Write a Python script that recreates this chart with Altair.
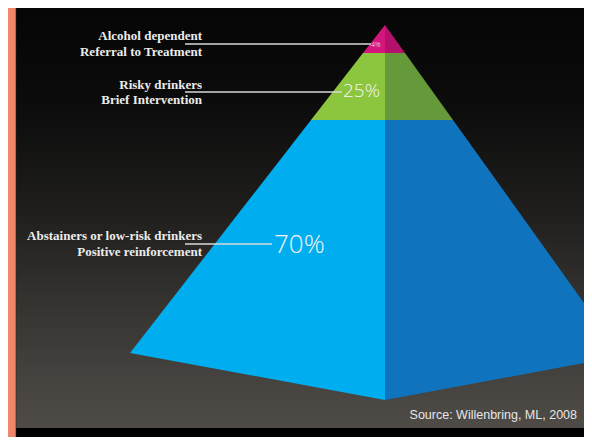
import altair as alt
import pandas as pd

# ---- pyramid geometry (reference pixel coordinates) ----
face_names = ["pink_l", "pink_r", "green_l", "green_r", "blue_l", "blue_r"]
face_colors = ["#d5157e", "#b5106b", "#8cc63f", "#66993a", "#00adee", "#0f74bd"]
face_y = [
    [25, 53], [25, 53],
    [53, 120], [53, 120],
    [120, 353, 400], [120, 356, 400],
]
face_x = [
    [385, 363], [385, 385],
    [363, 311], [385, 385],
    [311, 130, 385], [385, 385, 385],
]
face_x2 = [
    [385, 385], [385, 405],
    [385, 385], [405, 453],
    [385, 385, 385], [453, 622, 385],
]

labels_top = ["Alcohol dependent", "Risky drinkers", "Abstainers or low-risk drinkers"]
labels_bottom = ["Referral to Treatment", "Brief Intervention", "Positive reinforcement"]
label_y_top = [36, 85, 236]
label_y_bottom = [52, 100, 252]
leader_y = [44, 92, 244]
leader_x_end = [371, 342, 272]
pct_text = ["4%", "25%", "70%"]
pct_x = [371, 343, 274]
pct_y = [45, 91, 245]
pct_size = [7, 19, 26]
source_text = "Source: Willenbring, ML, 2008"

rows = []
for n, ys_, xs_, x2s in zip(face_names, face_y, face_x, face_x2):
    for yy, xx, xx2 in zip(ys_, xs_, x2s):
        rows.append({"face": n, "y": yy, "x": xx, "x2": xx2})
faces = pd.DataFrame(rows)

W, H = 576, 429
xs = alt.Scale(domain=[8, 8 + W], nice=False, zero=False)
ys = alt.Scale(domain=[8, 8 + H], reverse=True, nice=False, zero=False)

def X(f):
    return alt.X(f, type="quantitative", scale=xs, axis=None)

def Y(f):
    return alt.Y(f, type="quantitative", scale=ys, axis=None)

# background gradient
bg = alt.Chart(pd.DataFrame({"x": [0], "x2": [592], "y": [0], "y2": [428]})).mark_rect(
    clip=True,
    color=alt.Gradient(
        gradient="linear",
        stops=[
            alt.GradientStop(color="#050505", offset=0),
            alt.GradientStop(color="#0c0c0c", offset=0.25),
            alt.GradientStop(color="#201f1d", offset=0.5),
            alt.GradientStop(color="#393734", offset=0.75),
            alt.GradientStop(color="#4f4c48", offset=1),
        ],
        x1=0, x2=0, y1=0, y2=1,
    ),
).encode(x=X("x"), x2="x2", y=Y("y"), y2="y2")

bottom = alt.Chart(pd.DataFrame({"x": [0], "x2": [592], "y": [428], "y2": [445]})).mark_rect(
    color="#000000", clip=True
).encode(x=X("x"), x2="x2", y=Y("y"), y2="y2")

orange = alt.Chart(pd.DataFrame({"x": [4], "x2": [16], "y": [5], "y2": [445]})).mark_rect(
    color="#f0866a", stroke="#3a2018", strokeWidth=0.6, clip=True
).encode(x=X("x"), x2="x2", y=Y("y"), y2="y2")

pyramid = alt.Chart(faces).mark_area(orient="horizontal", clip=True).encode(
    y=Y("y"),
    x=alt.X("x:Q", scale=xs, axis=None, stack=None),
    x2="x2:Q",
    color=alt.Color("face:N", scale=alt.Scale(domain=face_names, range=face_colors), legend=None),
)

leaders = alt.Chart(pd.DataFrame({"x": [185] * 3, "x2": leader_x_end, "y": leader_y})).mark_rule(
    color="#d8d8d8", strokeWidth=1.4
).encode(x=X("x"), x2="x2", y=Y("y"))

lab_df = pd.DataFrame({
    "t": labels_top + labels_bottom,
    "y": label_y_top + label_y_bottom,
    "x": [202] * 6,
})
labels = alt.Chart(lab_df).mark_text(
    align="right", baseline="middle", font="Liberation Serif", fontWeight="bold",
    fontSize=13, color="#ececec"
).encode(x=X("x"), y=Y("y"), text="t:N")

pct_df = pd.DataFrame({"t": pct_text, "x": pct_x, "y": pct_y, "s": pct_size})
pcts = alt.Chart(pct_df).mark_text(
    align="left", baseline="middle", font="Open Sans", fontWeight=300, color="#f4f4f4"
).encode(x=X("x"), y=Y("y"), text="t:N",
         size=alt.Size("s:Q", scale=None, legend=None))

src = alt.Chart(pd.DataFrame({"t": [source_text], "x": [577], "y": [415]})).mark_text(
    align="right", baseline="middle", font="Liberation Sans", fontSize=12.5, color="#e6e6e6"
).encode(x=X("x"), y=Y("y"), text="t:N")

chart = alt.layer(bg, bottom, orange, pyramid, leaders, labels, pcts, src).properties(
    width=W, height=H, padding=0, autosize=alt.AutoSizeParams(type="none"),
    background="#000000",
).configure_view(stroke=None)

chart.save("out.html", embed_options={"renderer": "svg", "actions": False})
